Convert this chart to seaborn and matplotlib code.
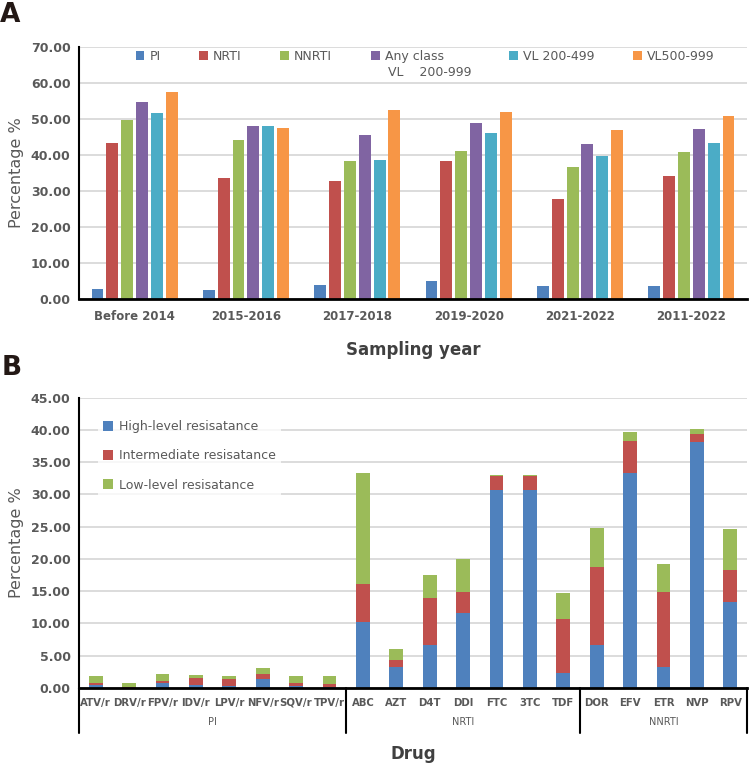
import numpy as np
import pandas as pd
import matplotlib
matplotlib.use("Agg")
import matplotlib.pyplot as plt
import matplotlib.transforms as mtransforms
from matplotlib.patches import Patch
from matplotlib.ticker import MultipleLocator, FormatStrFormatter
import seaborn as sns

# ---- Panel A data: drug resistance by sampling year ----
years = ["Before 2014", "2015-2016", "2017-2018", "2019-2020", "2021-2022", "2011-2022"]
pi_vals = [2.9, 2.5, 3.9, 5.1, 3.5, 3.7]
nrti_vals = [43.2, 33.5, 32.9, 38.2, 27.9, 34.2]
nnrti_vals = [49.6, 44.3, 38.2, 41.0, 36.8, 40.7]
any_class_vals = [54.7, 48.0, 45.5, 48.8, 43.1, 47.1]
vl_200_499_vals = [51.8, 48.1, 38.6, 46.0, 39.8, 43.3]
vl_500_999_vals = [57.5, 47.5, 52.6, 51.9, 46.9, 50.8]
series_names = ["PI", "NRTI", "NNRTI", "Any class", "VL 200-499", "VL500-999"]
any_class_note = "VL    200-999"

# ---- Panel B data: resistance level by drug ----
drugs = ["ATV/r", "DRV/r", "FPV/r", "IDV/r", "LPV/r", "NFV/r", "SQV/r", "TPV/r",
         "ABC", "AZT", "D4T", "DDI", "FTC", "3TC", "TDF",
         "DOR", "EFV", "ETR", "NVP", "RPV"]
drug_groups = ["PI", "NRTI", "NNRTI"]
group_sizes = [8, 7, 5]
high_level = [0.4, 0.0, 0.75, 0.5, 0.3, 1.35, 0.35, 0.1,
              10.2, 3.3, 6.7, 11.6, 30.75, 30.75, 2.4,
              6.6, 33.3, 3.3, 38.1, 13.4]
intermediate = [0.45, 0.1, 0.4, 1.1, 1.15, 0.75, 0.4, 0.55,
                5.9, 1.1, 7.25, 3.3, 2.05, 2.05, 8.35,
                12.1, 5.0, 11.6, 1.2, 4.95]
low_level = [0.95, 0.7, 0.95, 0.4, 0.4, 1.05, 1.1, 1.2,
             17.2, 1.6, 3.55, 5.1, 0.2, 0.2, 3.95,
             6.05, 1.4, 4.3, 0.8, 6.35]
level_labels = ["High-level resisatance", "Intermediate resisatance", "Low-level resisatance"]

# Excel-like palette
top_colors = ["#4F81BD", "#C0504D", "#9BBB59", "#8064A2", "#4BACC6", "#F79646"]
level_colors = ["#4F81BD", "#C0504D", "#9BBB59"]
tick_color = "#595959"
grid_color = "#D9D9D9"

sns.set_theme(style="white")
plt.rcParams["font.family"] = ["DejaVu Sans"]

fig = plt.figure(figsize=(7.5, 7.63), dpi=100)
ax1 = fig.add_axes([0.1053, 0.6081, 0.8907, 0.3303])
ax2 = fig.add_axes([0.1053, 0.0983, 0.8907, 0.3805])

# ---------- Panel A ----------
df_a = pd.DataFrame({
    "year": np.tile(years, len(series_names)),
    "series": np.repeat(series_names, len(years)),
    "value": np.concatenate([pi_vals, nrti_vals, nnrti_vals, any_class_vals,
                             vl_200_499_vals, vl_500_999_vals]),
})
sns.barplot(data=df_a, x="year", y="value", hue="series", hue_order=series_names,
            palette=top_colors, width=0.8, gap=0.2, linewidth=0, saturation=1,
            legend=False, ax=ax1, zorder=3)

ax1.set_ylim(0, 70)
ax1.set_xlim(-0.5, len(years) - 0.5)
ax1.yaxis.set_major_locator(MultipleLocator(10))
ax1.yaxis.set_major_formatter(FormatStrFormatter("%.2f"))
ax1.grid(axis="y", color=grid_color, linewidth=1.3, zorder=0)
ax1.set_axisbelow(True)

# legend split in two so the "Any class" column can hold a second line
handles_a = [Patch(facecolor=c, edgecolor="none") for c in top_colors]
leg_kw = dict(frameon=True, fontsize=9, handlelength=0.7, handleheight=0.7,
              handletextpad=0.4, columnspacing=3.1, borderpad=0.1, borderaxespad=0)
leg1a = ax1.legend(handles_a[:4], series_names[:4], ncol=4, loc="upper left",
                   bbox_to_anchor=(0.083, 0.995), **leg_kw)
ax1.add_artist(leg1a)
leg1b = ax1.legend(handles_a[4:], series_names[4:], ncol=2, loc="upper left",
                   bbox_to_anchor=(0.642, 0.995), **leg_kw)
for leg in [leg1a, leg1b]:
    leg.get_frame().set_facecolor("white")
    leg.get_frame().set_edgecolor("none")
    for t in leg.get_texts():
        t.set_color(tick_color)
ax1.text(0.463, 0.897, any_class_note, transform=ax1.transAxes, fontsize=9,
         color=tick_color, va="center", ha="left", zorder=6)

ax1.set_xlabel("Sampling year", fontsize=12, fontweight="bold", color="#404040")
ax1.xaxis.set_label_coords(0.5, -0.167)
ax1.set_ylabel("Percentage %", fontsize=11.5, color=tick_color)
ax1.yaxis.set_label_coords(-0.083, 0.5)

# ---------- Panel B (stacked via overlapping cumulative bars) ----------
cum_total = np.array(high_level) + np.array(intermediate) + np.array(low_level)
cum_mid = np.array(high_level) + np.array(intermediate)
cum_high = np.array(high_level)
for vals, col in zip([cum_total, cum_mid, cum_high], level_colors[::-1]):
    sns.barplot(x=drugs, y=vals, color=col, width=0.41, linewidth=0,
                saturation=1, ax=ax2, zorder=3)

ax2.set_ylim(0, 45)
ax2.set_xlim(-0.5, len(drugs) - 0.5)
ax2.yaxis.set_major_locator(MultipleLocator(5))
ax2.yaxis.set_major_formatter(FormatStrFormatter("%.2f"))
ax2.grid(axis="y", color=grid_color, linewidth=1.3, zorder=0)
ax2.set_axisbelow(True)

handles_b = [Patch(facecolor=c, edgecolor="none") for c in level_colors]
leg2 = ax2.legend(handles_b, level_labels, loc="upper left",
                  bbox_to_anchor=(0.028, 0.94), fontsize=9, frameon=True,
                  handlelength=0.8, handleheight=0.8, handletextpad=0.5,
                  labelspacing=1.3, borderpad=0.4, borderaxespad=0)
leg2.get_frame().set_facecolor("white")
leg2.get_frame().set_edgecolor("none")
for t in leg2.get_texts():
    t.set_color(tick_color)

# group brackets under the drug labels
trans = mtransforms.blended_transform_factory(ax2.transData, ax2.transAxes)
edges = np.concatenate([[0], np.cumsum(group_sizes)]) - 0.5
for e in edges:
    ax2.plot([e, e], [0, -0.155], transform=trans, color="black",
             linewidth=1.5, clip_on=False, zorder=5)
for name, lo, hi in zip(drug_groups, edges[:-1], edges[1:]):
    ax2.text((lo + hi) / 2, -0.117, name, transform=trans, ha="center",
             va="center", fontsize=7, color=tick_color)

ax2.set_xlabel("Drug", fontsize=12, fontweight="bold", color="#404040")
ax2.xaxis.set_label_coords(0.5, -0.196)
ax2.set_ylabel("Percentage %", fontsize=11.5, color=tick_color)
ax2.yaxis.set_label_coords(-0.083, 0.5)

# shared axis styling
for ax, xfs, xpad in [(ax1, 8.5, 8), (ax2, 7.3, 7)]:
    for s in ["top", "right"]:
        ax.spines[s].set_visible(False)
    ax.spines["left"].set_color("black")
    ax.spines["left"].set_linewidth(1.5)
    ax.spines["bottom"].set_color("black")
    ax.spines["bottom"].set_linewidth(2)
    ax.spines["bottom"].set_zorder(6)
    ax.tick_params(axis="y", length=0, pad=6, labelsize=9, labelcolor=tick_color)
    ax.tick_params(axis="x", length=0, pad=xpad, labelsize=xfs, labelcolor=tick_color)
    for lbl in ax.get_yticklabels() + ax.get_xticklabels():
        lbl.set_fontweight("bold")

fig.text(0.0, 0.997, "A", fontsize=19, fontweight="bold", color="#231815", va="top")
fig.text(0.002, 0.535, "B", fontsize=19, fontweight="bold", color="#231815", va="top")

fig.savefig("out.png", dpi=100)
